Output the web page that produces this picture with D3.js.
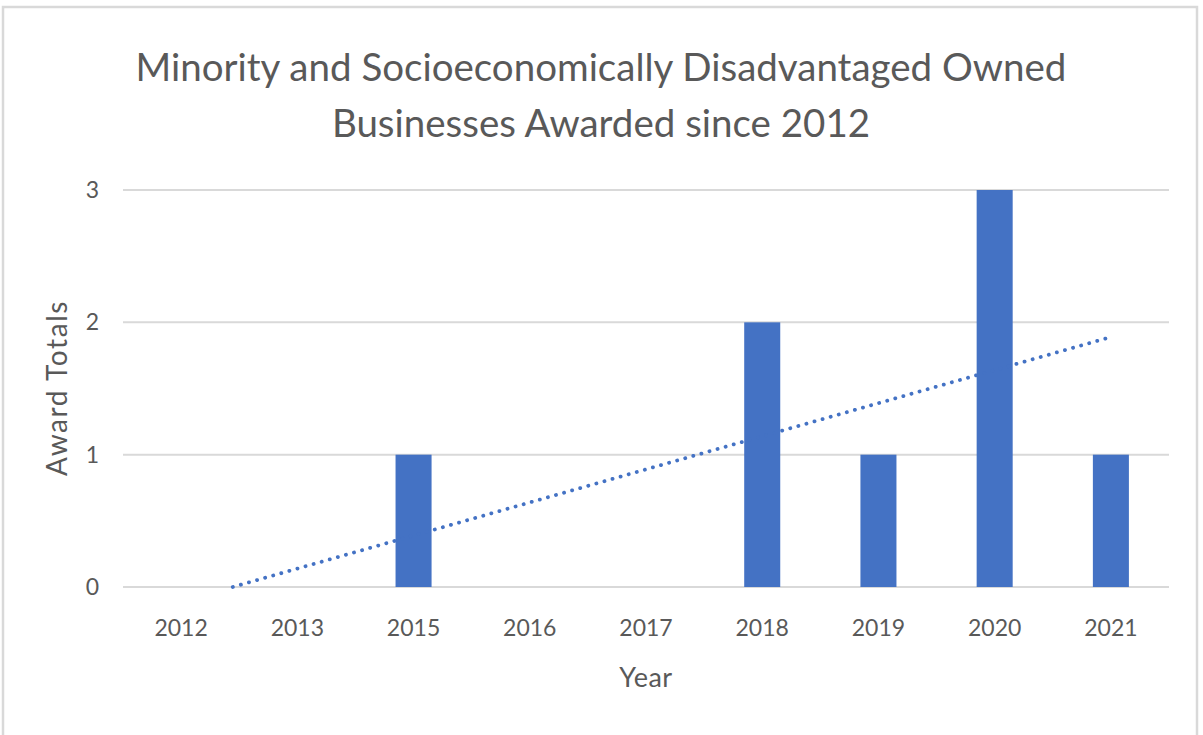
<!DOCTYPE html>
<html lang="en">
<head>
<meta charset="UTF-8"/>
<title>Minority and Socioeconomically Disadvantaged Owned Businesses Awarded since 2012</title>
<script src="https://d3js.org/d3.v7.min.js"></script>
<style>
	body { margin: 0; background: #fff; }
	text { font-family: Lato, "Open Sans", sans-serif; fill: #595959; }
</style>
</head>
<body>
<script>
	// data
	var years  = ["2012", "2013", "2015", "2016", "2017", "2018", "2019", "2020", "2021"];
	var awards = [0, 0, 1, 0, 0, 2, 1, 3, 1];
	var yTicks = [0, 1, 2, 3];

	var w = 1203;
	var h = 735;
	// plot area edges (named so they don't clash with window.top)
	var plotL = 123, plotR = 1169, plotT = 190, plotB = 587;

	var svg = d3.select("body")
				.append("svg")
				.attr("width", w)
				.attr("height", h);

	// chart border
	svg.append("rect")
		.attr("x", 3)
		.attr("y", 7)
		.attr("width", 1194)
		.attr("height", 760)
		.attr("fill", "none")
		.attr("stroke", "#d9d9d9")
		.attr("stroke-width", 2.5);

	var xScale = d3.scaleBand()
					.domain(years)
					.range([plotL, plotR])
					.paddingInner(0.69)
					.paddingOuter(0.345);

	var yScale = d3.scaleLinear()
					.domain([0, 3])
					.range([plotB, plotT]);

	// gridlines
	svg.append("g")
		.selectAll("line")
		.data(yTicks)
		.enter()
		.append("line")
		.attr("x1", plotL)
		.attr("x2", plotR)
		.attr("y1", function(d){ return yScale(d); })
		.attr("y2", function(d){ return yScale(d); })
		.attr("stroke", "#d9d9d9")
		.attr("stroke-width", 2);

	// y tick labels
	svg.append("g")
		.selectAll("text")
		.data(yTicks)
		.enter()
		.append("text")
		.attr("x", 99)
		.attr("y", function(d){ return yScale(d); })
		.attr("dy", "0.35em")
		.attr("text-anchor", "end")
		.style("font-size", "23px")
		.text(function(d){ return d; });

	// bars
	svg.append("g")
		.selectAll("rect")
		.data(awards)
		.enter()
		.append("rect")
		.attr("x", function(d, i){ return xScale(years[i]); })
		.attr("y", function(d){ return yScale(d); })
		.attr("width", xScale.bandwidth())
		.attr("height", function(d){ return plotB - yScale(d); })
		.attr("fill", "#4472c4");

	// x axis labels
	var xAxis = d3.axisBottom(xScale).tickSize(0).tickPadding(0);
	var gx = svg.append("g")
		.attr("transform", "translate(0," + plotB + ")")
		.call(xAxis);
	gx.select(".domain").remove();
	gx.selectAll("text")
		.attr("y", 49)
		.attr("dy", null)
		.style("font-family", "Lato, sans-serif")
		.style("font-size", "23px")
		.attr("fill", "#595959");

	// linear trendline (least squares on category index), clipped at 0 like Excel
	var n = awards.length;
	var xs = d3.range(1, n + 1);
	var mx = d3.mean(xs), my = d3.mean(awards);
	var slope = d3.sum(xs, function(x, i){ return (x - mx) * (awards[i] - my); }) /
				d3.sum(xs, function(x){ return (x - mx) * (x - mx); });
	var icpt = my - slope * mx;
	var tScale = d3.scaleLinear().domain([0.5, n + 0.5]).range([plotL, plotR]);
	var tStart = Math.max(1, -icpt / slope);
	var trend = [tStart, n];

	svg.append("path")
		.datum(trend)
		.attr("d", d3.line()
			.x(function(t){ return tScale(t); })
			.y(function(t){ return yScale(slope * t + icpt); }))
		.attr("fill", "none")
		.attr("stroke", "#4472c4")
		.attr("stroke-width", 3.8)
		.attr("stroke-linecap", "round")
		.attr("stroke-dasharray", "0.1 8.3");

	// title
	var title = svg.append("text")
		.attr("text-anchor", "middle")
		.style("font-size", "38.5px");
	title.append("tspan").attr("x", 601).attr("y", 81)
		.text("Minority and Socioeconomically Disadvantaged Owned");
	title.append("tspan").attr("x", 601).attr("y", 137)
		.text("Businesses Awarded since 2012");

	// axis titles
	svg.append("text")
		.attr("text-anchor", "middle")
		.attr("x", 646)
		.attr("y", 687)
		.style("font-size", "27px")
		.style("letter-spacing", "0.5px")
		.text("Year");

	svg.append("text")
		.attr("text-anchor", "middle")
		.attr("transform", "translate(67,388) rotate(-90)")
		.style("font-size", "28px")
		.style("letter-spacing", "1.6px")
		.text("Award Totals");
</script>
</body>
</html>
